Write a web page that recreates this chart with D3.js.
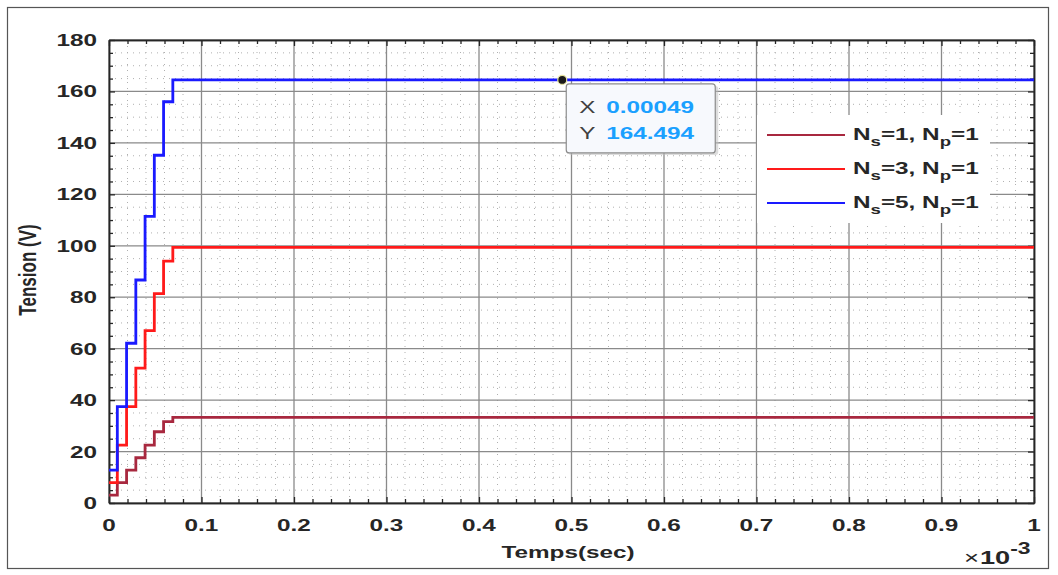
<!DOCTYPE html>
<html lang="fr">
	<head>
		<meta charset="utf-8">
		<title>Tension vs Temps</title>
		<script type="text/javascript" src="https://cdn.jsdelivr.net/npm/d3@7/dist/d3.min.js"></script>
		<style type="text/css">
			body { margin: 0; background: #fff; }
			svg text { font-family: "Liberation Sans", Arial, sans-serif; }
		</style>
	</head>
	<body>
	<script type="text/javascript">

		// data (temps en ms, i.e. x 10^-3 s)
		var temps = [0, 0.009, 0.019, 0.029, 0.039, 0.049, 0.059, 0.069, 1];
		var ns1 = [3.1, 7.9, 12.8, 17.6, 22.5, 27.7, 31.6, 33.3, 33.3];
		var ns3 = [7.9, 22.5, 37.5, 52.4, 67.0, 81.4, 94.0, 99.4, 99.4];
		var ns5 = [12.8, 37.5, 62.1, 86.7, 111.4, 135.2, 156.0, 164.5, 164.5];
		var seriesNames = [["1", "1"], ["3", "1"], ["5", "1"]];
		var xTicks = [0, 0.1, 0.2, 0.3, 0.4, 0.5, 0.6, 0.7, 0.8, 0.9, 1];
		var yTicks = [0, 20, 40, 60, 80, 100, 120, 140, 160, 180];
		var tipX = 0.49, tipY = 164.494, tipLabels = ["0.00049", "164.494"];

		var w = 1058, h = 575;
		var pLeft = 109, pRight = 1034, pTop = 40, pBottom = 503;
		var sx = 1.43; // the picture is stretched sideways
		var colors = ["#a8283f", "#ff1a1a", "#1a1aff"];

		var svg = d3.select("body").append("svg")
			.attr("width", w)
			.attr("height", h);

		var xScale = d3.scaleLinear().domain([0, 1]).range([pLeft, pRight]);
		var yScale = d3.scaleLinear().domain([0, 180]).range([pBottom, pTop]);

		// outer frame
		svg.append("rect")
			.attr("x", 7.5).attr("y", 7.5)
			.attr("width", 1041).attr("height", 561)
			.attr("fill", "none").attr("stroke", "#555").attr("stroke-width", 1.2);

		// minor grid, dotted
		var xMinor = d3.range(0, 1.0001, 0.02).filter(function(d) { return Math.abs(d * 10 - Math.round(d * 10)) > 1e-6; });
		var yMinor = d3.range(0, 180.001, 5).filter(function(d) { return d % 20 != 0; });

		svg.append("g").selectAll("line").data(xMinor).enter().append("line")
			.attr("x1", function(d) { return xScale(d); }).attr("x2", function(d) { return xScale(d); })
			.attr("y1", pTop).attr("y2", pBottom)
			.attr("stroke", "#b0b0b0").attr("stroke-width", 1).attr("stroke-dasharray", "1,5");
		svg.append("g").selectAll("line").data(yMinor).enter().append("line")
			.attr("y1", function(d) { return yScale(d); }).attr("y2", function(d) { return yScale(d); })
			.attr("x1", pLeft).attr("x2", pRight)
			.attr("stroke", "#b0b0b0").attr("stroke-width", 1).attr("stroke-dasharray", "1,5");

		// major grid
		svg.append("g").selectAll("line").data(xTicks).enter().append("line")
			.attr("x1", function(d) { return xScale(d); }).attr("x2", function(d) { return xScale(d); })
			.attr("y1", pTop).attr("y2", pBottom)
			.attr("stroke", "#8a8a8a").attr("stroke-width", 1.3);
		svg.append("g").selectAll("line").data(yTicks).enter().append("line")
			.attr("y1", function(d) { return yScale(d); }).attr("y2", function(d) { return yScale(d); })
			.attr("x1", pLeft).attr("x2", pRight)
			.attr("stroke", "#8a8a8a").attr("stroke-width", 1.3);

		// axes with inward ticks, box on
		var axisStyle = function(g) {
			g.selectAll("text").remove();
			g.selectAll("path").attr("stroke", "#262626").attr("stroke-width", 1.5);
			g.selectAll("line").attr("stroke", "#262626").attr("stroke-width", 1.3);
		};
		svg.append("g").attr("transform", "translate(0," + pBottom + ")")
			.call(d3.axisTop(xScale).tickValues(xTicks).tickSizeInner(6).tickSizeOuter(0)).call(axisStyle);
		svg.append("g").attr("transform", "translate(0," + pTop + ")")
			.call(d3.axisBottom(xScale).tickValues(xTicks).tickSizeInner(6).tickSizeOuter(0)).call(axisStyle);
		svg.append("g").attr("transform", "translate(" + pLeft + ",0)")
			.call(d3.axisRight(yScale).tickValues(yTicks).tickSizeInner(6).tickSizeOuter(0)).call(axisStyle);
		svg.append("g").attr("transform", "translate(" + pRight + ",0)")
			.call(d3.axisLeft(yScale).tickValues(yTicks).tickSizeInner(6).tickSizeOuter(0)).call(axisStyle);
		// minor ticks
		svg.append("g").attr("transform", "translate(0," + pBottom + ")")
			.call(d3.axisTop(xScale).tickValues(xMinor).tickSizeInner(4).tickSizeOuter(0)).call(axisStyle);
		svg.append("g").attr("transform", "translate(0," + pTop + ")")
			.call(d3.axisBottom(xScale).tickValues(xMinor).tickSizeInner(4).tickSizeOuter(0)).call(axisStyle);
		svg.append("g").attr("transform", "translate(" + pLeft + ",0)")
			.call(d3.axisRight(yScale).tickValues(yMinor).tickSizeInner(4).tickSizeOuter(0)).call(axisStyle);
		svg.append("g").attr("transform", "translate(" + pRight + ",0)")
			.call(d3.axisLeft(yScale).tickValues(yMinor).tickSizeInner(4).tickSizeOuter(0)).call(axisStyle);

		// stretched text helper
		function label(x, y, str, anchor, size, weight) {
			return svg.append("text")
				.attr("transform", "translate(" + x + "," + y + ") scale(" + sx + ",1)")
				.attr("text-anchor", anchor)
				.attr("font-size", size + "px")
				.attr("font-weight", weight || "bold")
				.attr("fill", "#262626")
				.text(str);
		}

		xTicks.forEach(function(d) { label(xScale(d), 531, d3.format("")(d), "middle", 17); });
		yTicks.forEach(function(d) { label(pLeft - 12, yScale(d) + 6, d, "end", 17); });

		label(568, 558, "Temps(sec)", "middle", 17);
		svg.append("text")
			.attr("transform", "translate(36,270) scale(" + sx + ",1) rotate(-90)")
			.attr("text-anchor", "middle")
			.attr("font-size", "17px")
			.attr("font-weight", "bold")
			.attr("fill", "#262626")
			.text("Tension (V)");

		// x10^-3
		label(964, 564, "\u00d7", "start", 18, "normal");
		var ex2 = label(980, 564, "10", "start", 19);
		ex2.append("tspan").attr("font-size", "16px").attr("dy", -10).text("-3");

		// curves
		var line = d3.line()
			.x(function(d) { return xScale(d[0]); })
			.y(function(d) { return yScale(d[1]); })
			.curve(d3.curveStepAfter);

		[ns1, ns3, ns5].forEach(function(s, i) {
			svg.append("path")
				.datum(temps.map(function(t, j) { return [t, s[j]]; }))
				.attr("d", line)
				.attr("fill", "none")
				.attr("stroke", colors[i])
				.attr("stroke-width", 2.8);
		});

		// legend
		var lx = 757, ly = 115;
		svg.append("rect")
			.attr("x", lx).attr("y", ly).attr("width", 233).attr("height", 108)
			.attr("fill", "#fff");
		seriesNames.forEach(function(n, i) {
			var yy = ly + 20 + i * 34;
			svg.append("line")
				.attr("x1", lx + 10).attr("x2", lx + 88)
				.attr("y1", yy).attr("y2", yy)
				.attr("stroke", colors[i]).attr("stroke-width", 2.2);
			var t = label(lx + 96, yy + 5, "N", "start", 17);
			t.append("tspan").attr("font-size", "13px").attr("dy", 6).text("s");
			t.append("tspan").attr("dy", -6).text("=" + n[0] + ", N");
			t.append("tspan").attr("font-size", "13px").attr("dy", 6).text("p");
			t.append("tspan").attr("dy", -6).text("=" + n[1]);
		});

		// data tip
		var tx = xScale(tipX), ty = yScale(tipY);
		svg.append("rect")
			.attr("x", tx + 6).attr("y", ty + 6).attr("width", 150).attr("height", 69)
			.attr("rx", 3).attr("fill", "#bbb").attr("opacity", 0.5);
		svg.append("rect")
			.attr("x", tx + 4).attr("y", ty + 4).attr("width", 149).attr("height", 69)
			.attr("rx", 3).attr("fill", "#f7f9fd").attr("stroke", "#8c8c8c").attr("stroke-width", 1.2);
		label(tx + 17, ty + 33, "X", "start", 17, "normal").attr("fill", "#404040");
		label(tx + 17, ty + 59, "Y", "start", 17, "normal").attr("fill", "#404040");
		label(tx + 44, ty + 33, tipLabels[0], "start", 17).attr("fill", "#1aa0ff");
		label(tx + 44, ty + 59, tipLabels[1], "start", 17).attr("fill", "#1aa0ff");
		svg.append("circle")
			.attr("cx", tx).attr("cy", ty).attr("r", 4.5)
			.attr("fill", "#1a1a1a").attr("stroke", "#e6e2a0").attr("stroke-width", 1.2);

	</script>
	</body>
</html>
